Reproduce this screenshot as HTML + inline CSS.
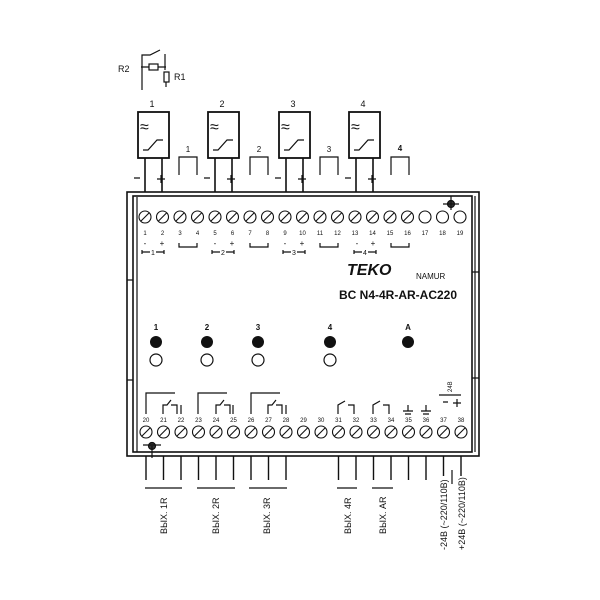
<!DOCTYPE html>
<html><head><style>body{margin:0;background:#fff}svg{display:block}text{font-family:"Liberation Sans","DejaVu Sans",sans-serif;fill:#111}</style></head><body>
<svg width="600" height="600" viewBox="0 0 600 600" stroke="#111" fill="none" stroke-width="1.2">
<text x="118" y="72" font-size="9" stroke="none">R2</text>
<text x="174" y="80" font-size="9" stroke="none">R1</text>
<path d="M142 90V55h8l10-5M165 54v16M141 67h8M158 67h8"/>
<rect x="149" y="64" width="9" height="6"/>
<rect x="164" y="72" width="5" height="10"/>
<path d="M166 82v5"/>
<g>
<text x="152" y="107" font-size="9" stroke="none" text-anchor="middle">1</text>
<rect x="138" y="112" width="31" height="46" stroke-width="1.8"/>
<text x="140" y="132" font-size="16" stroke="none">≈</text>
<path d="M143 150h5l9-10h6"/>
<path d="M145 158v34M162 158v34" stroke-width="1.6"/>
<path d="M134 178h6M157 179h8M161 175v8"/>
</g>
<g transform="translate(70,0)"><rect x="138" y="112" width="31" height="46" stroke-width="1.8"/><text x="140" y="132" font-size="16" stroke="none">≈</text><path d="M143 150h5l9-10h6"/><path d="M145 158v34M162 158v34" stroke-width="1.6"/><path d="M134 178h6M157 179h8M161 175v8"/><text x="152" y="107" font-size="9" stroke="none" text-anchor="middle">2</text></g>
<g transform="translate(141,0)"><rect x="138" y="112" width="31" height="46" stroke-width="1.8"/><text x="140" y="132" font-size="16" stroke="none">≈</text><path d="M143 150h5l9-10h6"/><path d="M145 158v34M162 158v34" stroke-width="1.6"/><path d="M134 178h6M157 179h8M161 175v8"/><text x="152" y="107" font-size="9" stroke="none" text-anchor="middle">3</text></g>
<g transform="translate(211,0)"><rect x="138" y="112" width="31" height="46" stroke-width="1.8"/><text x="140" y="132" font-size="16" stroke="none">≈</text><path d="M143 150h5l9-10h6"/><path d="M145 158v34M162 158v34" stroke-width="1.6"/><path d="M134 178h6M157 179h8M161 175v8"/><text x="152" y="107" font-size="9" stroke="none" text-anchor="middle">4</text></g>
<path d="M179 175v-18h18v18M250 175v-18h18v18M320 175v-18h18v18M391 175v-18h18v18"/>
<g font-size="8" stroke="none" text-anchor="middle"><text x="188" y="152">1</text><text x="259" y="152">2</text><text x="329" y="152">3</text><text x="400" y="151" font-weight="bold">4</text></g>
<rect x="127" y="192" width="352" height="264" stroke-width="1.6"/>
<rect x="133" y="196" width="339" height="256" stroke-width="1.6"/>
<path d="M137 197v255M475 196v256M127 280h6M127 380h6M472 272h7M472 378h7"/>
<circle cx="451" cy="204" r="3.5" fill="#333"/><path d="M451 196v14M443 204h16"/>
<circle cx="152" cy="446" r="3.5" fill="#333"/><path d="M152 446v12M143 445h18"/>
<g stroke-width="1.1">
<circle cx="145" cy="217" r="6"/><circle cx="162.5" cy="217" r="6"/><circle cx="180" cy="217" r="6"/><circle cx="197.5" cy="217" r="6"/><circle cx="215" cy="217" r="6"/><circle cx="232.5" cy="217" r="6"/><circle cx="250" cy="217" r="6"/><circle cx="267.5" cy="217" r="6"/><circle cx="285" cy="217" r="6"/><circle cx="302.5" cy="217" r="6"/><circle cx="320" cy="217" r="6"/><circle cx="337.5" cy="217" r="6"/><circle cx="355" cy="217" r="6"/><circle cx="372.5" cy="217" r="6"/><circle cx="390" cy="217" r="6"/><circle cx="407.5" cy="217" r="6"/><circle cx="425" cy="217" r="6"/><circle cx="442.5" cy="217" r="6"/><circle cx="460" cy="217" r="6"/>
<path d="M141 221l8-8M158.5 221l8-8M176 221l8-8M193.5 221l8-8M211 221l8-8M228.5 221l8-8M246 221l8-8M263.5 221l8-8M281 221l8-8M298.5 221l8-8M316 221l8-8M333.5 221l8-8M351 221l8-8M368.5 221l8-8M386 221l8-8M403.5 221l8-8"/>
<circle cx="146" cy="432" r="6"/><circle cx="163.5" cy="432" r="6"/><circle cx="181" cy="432" r="6"/><circle cx="198.5" cy="432" r="6"/><circle cx="216" cy="432" r="6"/><circle cx="233.5" cy="432" r="6"/><circle cx="251" cy="432" r="6"/><circle cx="268.5" cy="432" r="6"/><circle cx="286" cy="432" r="6"/><circle cx="303.5" cy="432" r="6"/><circle cx="321" cy="432" r="6"/><circle cx="338.5" cy="432" r="6"/><circle cx="356" cy="432" r="6"/><circle cx="373.5" cy="432" r="6"/><circle cx="391" cy="432" r="6"/><circle cx="408.5" cy="432" r="6"/><circle cx="426" cy="432" r="6"/><circle cx="443.5" cy="432" r="6"/><circle cx="461" cy="432" r="6"/>
<path d="M142 436l8-8M159.5 436l8-8M177 436l8-8M194.5 436l8-8M212 436l8-8M229.5 436l8-8M247 436l8-8M264.5 436l8-8M282 436l8-8M299.5 436l8-8M317 436l8-8M334.5 436l8-8M352 436l8-8M369.5 436l8-8M387 436l8-8M404.5 436l8-8M422 436l8-8M439.5 436l8-8M457 436l8-8"/>
</g>
<g font-size="6" stroke="none" text-anchor="middle">
<text x="145" y="235">1</text><text x="162.5" y="235">2</text><text x="180" y="235">3</text><text x="197.5" y="235">4</text><text x="215" y="235">5</text><text x="232.5" y="235">6</text><text x="250" y="235">7</text><text x="267.5" y="235">8</text><text x="285" y="235">9</text><text x="302.5" y="235">10</text><text x="320" y="235">11</text><text x="337.5" y="235">12</text><text x="355" y="235">13</text><text x="372.5" y="235">14</text><text x="390" y="235">15</text><text x="407.5" y="235">16</text><text x="425" y="235">17</text><text x="442.5" y="235">18</text><text x="460" y="235">19</text>
<text x="146" y="422">20</text><text x="163.5" y="422">21</text><text x="181" y="422">22</text><text x="198.5" y="422">23</text><text x="216" y="422">24</text><text x="233.5" y="422">25</text><text x="251" y="422">26</text><text x="268.5" y="422">27</text><text x="286" y="422">28</text><text x="303.5" y="422">29</text><text x="321" y="422">30</text><text x="338.5" y="422">31</text><text x="356" y="422">32</text><text x="373.5" y="422">33</text><text x="391" y="422">34</text><text x="408.5" y="422">35</text><text x="426" y="422">36</text><text x="443.5" y="422">37</text><text x="461" y="422">38</text>
</g>
<g font-size="8" stroke="none" text-anchor="middle">
<text x="145" y="246">-</text><text x="162" y="246">+</text><text x="215" y="246">-</text><text x="232" y="246">+</text><text x="285" y="246">-</text><text x="302" y="246">+</text><text x="357" y="246">-</text><text x="373" y="246">+</text>
<text x="153" y="255" font-size="7">1</text><text x="223" y="255" font-size="7">2</text><text x="294" y="255" font-size="7">3</text><text x="365" y="255" font-size="7">4</text>
</g>
<path d="M142 252h8M156 252h8M142 250v4M164 250v4M212 252h8M226 252h8M212 250v4M234 250v4M283 252h8M297 252h8M283 250v4M305 250v4M354 252h8M368 252h8M354 250v4M376 250v4"/>
<path d="M179 243v4h18v-4M250 243v4h18v-4M320 243v4h18v-4M391 243v4h18v-4"/>
<text x="347" y="275" font-size="16" font-weight="bold" stroke="none" font-style="italic">TEKO</text>
<text x="416" y="279" font-size="8" stroke="none">NAMUR</text>
<text x="339" y="299" font-size="12" font-weight="bold" stroke="none">BC N4-4R-AR-AC220</text>
<g font-size="8" font-weight="bold" stroke="none" text-anchor="middle"><text x="156" y="330">1</text><text x="207" y="330">2</text><text x="258" y="330">3</text><text x="330" y="330">4</text><text x="408" y="330">A</text></g>
<g fill="#111" stroke="none"><circle cx="156" cy="342" r="6"/><circle cx="207" cy="342" r="6"/><circle cx="258" cy="342" r="6"/><circle cx="330" cy="342" r="6"/><circle cx="408" cy="342" r="6"/></g>
<circle cx="156" cy="360" r="6"/><circle cx="207" cy="360" r="6"/><circle cx="258" cy="360" r="6"/><circle cx="330" cy="360" r="6"/>
<path d="M146 414v-21h29M163 414v-9h4l4-5M171 405h6v9M181 414v-9"/>
<path d="M198 414v-21h29M216 414v-9h4l4-5M224 405h6v9M233 414v-9"/>
<path d="M251 414v-21h29M268 414v-9h4l4-5M276 405h6v9M286 414v-9"/>
<path d="M338 414v-9l7-4M348 405h6v9M373 414v-9l7-4M383 405h6v9"/>
<path d="M408 405v6M403 411h10M405 414h6M426 405v6M421 411h10M423 414h6"/>
<path d="M439 395h22M443 402h5M457 399v8M453 403h8"/>
<text x="452" y="392" font-size="6" stroke="none" transform="rotate(-90 452 392)">24В</text>
<path d="M146 456v24M163.5 456v24M181 456v24M198.5 456v24M216 456v24M233.5 456v24M251 456v24M268.5 456v24M286 456v24M338.5 456v24M356 456v24M373.5 456v24M391 456v24M408.5 456v24M426 456v24" stroke-width="1.4"/>
<path d="M443.5 456v20M461 456v20" stroke-width="1.4"/>
<path d="M145 488h37M197 488h38M249 488h38M337 488h20M372 488h21M452 470v14"/>
<g font-size="9" stroke="none">
<text transform="translate(167 534) rotate(-90)">ВЫХ. 1R</text>
<text transform="translate(219 534) rotate(-90)">ВЫХ. 2R</text>
<text transform="translate(270 534) rotate(-90)">ВЫХ. 3R</text>
<text transform="translate(351 534) rotate(-90)">ВЫХ. 4R</text>
<text transform="translate(386 534) rotate(-90)">ВЫХ. AR</text>
<text transform="translate(447 550) rotate(-90)">-24В (~220/110В)</text>
<text transform="translate(465 550) rotate(-90)">+24В (~220/110В)</text>
</g>
</svg>
</body></html>
